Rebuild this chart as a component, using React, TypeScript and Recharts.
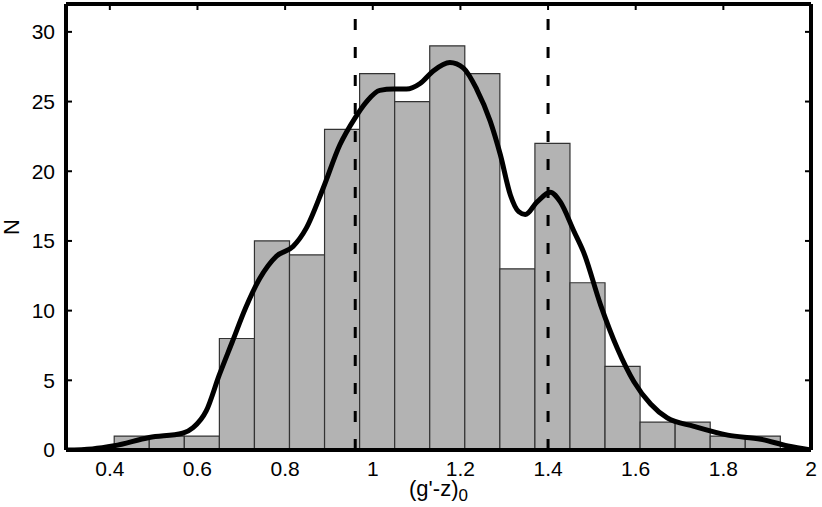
import { ComposedChart, Line, XAxis, YAxis, ReferenceArea, ReferenceLine } from "recharts";

// histogram bins: left edges and counts
const binStarts = [
  0.41, 0.49, 0.57, 0.65, 0.73, 0.81, 0.89, 0.97, 1.05, 1.13,
  1.21, 1.29, 1.37, 1.45, 1.53, 1.61, 1.69, 1.77, 1.85,
];
const binWidth = 0.08;
const counts = [1, 1, 1, 8, 15, 14, 23, 27, 25, 29, 27, 13, 22, 12, 6, 2, 2, 1, 1];

// smoothed density curve
const curveX = [
  0.3, 0.36, 0.41, 0.49, 0.566, 0.59, 0.62, 0.65, 0.68, 0.71, 0.742, 0.78, 0.818,
  0.848, 0.887, 0.925, 0.959, 0.986, 1.016, 1.047, 1.077, 1.108, 1.138, 1.176,
  1.207, 1.237, 1.268, 1.291, 1.314, 1.333, 1.348, 1.375, 1.405, 1.428, 1.459,
  1.481, 1.52, 1.558, 1.596, 1.634, 1.672, 1.733, 1.81, 1.886, 1.947, 2.0,
];
const curveY = [
  0.0, 0.08, 0.3, 0.9, 1.2, 1.6, 2.8, 5.4, 7.8, 10.2, 12.3, 13.9, 14.6,
  15.9, 18.8, 21.9, 23.8, 25.0, 25.8, 25.9, 25.9, 26.3, 27.2, 27.8,
  27.4, 25.9, 23.6, 21.2, 18.3, 17.1, 16.9, 17.8, 18.5, 17.8, 15.7,
  14.2, 10.4, 7.3, 4.9, 3.3, 2.3, 1.7, 1.07, 0.77, 0.29, 0.0,
];

const peakLines = [0.96, 1.4];
const xTicks = [0.4, 0.6, 0.8, 1, 1.2, 1.4, 1.6, 1.8, 2];
const yTicks = [0, 5, 10, 15, 20, 25, 30];

const curve = curveX.map((x, i) => ({ x, y: curveY[i] }));

const font = "'Liberation Sans', Arial, Helvetica, sans-serif";
const tickStyle = { fill: "#000", fontSize: 21, fontFamily: font };
const frame = { stroke: "#000", strokeWidth: 4 };
const inTick = { stroke: "#000", strokeWidth: 2 };
const noLabel = () => <g />;

const XLabel = (props: any) => {
  const vb = props.viewBox;
  return (
    <text
      x={vb.x + vb.width / 2}
      y={vb.y + 46}
      textAnchor="middle"
      fontSize={22}
      fontFamily={font}
      fill="#000"
    >
      (g'-z)
      <tspan dy={5} fontSize={17}>0</tspan>
    </text>
  );
};

const YLabel = (props: any) => {
  const vb = props.viewBox;
  const cy = vb.y + vb.height / 2;
  return (
    <text
      x={19}
      y={cy}
      textAnchor="middle"
      transform={`rotate(-90 19 ${cy})`}
      fontSize={22}
      fontFamily={font}
      fill="#000"
    >
      N
    </text>
  );
};

export default function App() {
  return (
    <div style={{ position: "absolute", left: 0, top: 0, background: "#fff" }}>
      <ComposedChart
        width={822}
        height={507}
        data={curve}
        margin={{ top: 3, right: 10, left: 0, bottom: 0 }}
      >
        <XAxis
          type="number"
          dataKey="x"
          domain={[0.3, 2]}
          ticks={xTicks}
          allowDataOverflow
          height={57}
          axisLine={frame}
          tickLine={false}
          tickSize={0}
          tickMargin={11}
          tick={tickStyle}
          label={XLabel}
        />
        <XAxis
          xAxisId="t"
          orientation="top"
          type="number"
          dataKey="x"
          domain={[0.3, 2]}
          ticks={xTicks}
          allowDataOverflow
          height={1}
          axisLine={frame}
          tickLine={inTick}
          tickSize={-6}
          tick={noLabel}
        />
        <YAxis
          type="number"
          domain={[0, 32]}
          ticks={yTicks}
          allowDataOverflow
          width={66}
          axisLine={frame}
          tickLine={inTick}
          tickSize={-6}
          tickMargin={17}
          tick={tickStyle}
          label={YLabel}
        />
        <YAxis
          yAxisId="r"
          orientation="right"
          type="number"
          domain={[0, 32]}
          ticks={yTicks}
          allowDataOverflow
          width={1}
          axisLine={frame}
          tickLine={inTick}
          tickSize={-6}
          tick={noLabel}
        />
        {binStarts.map((x0, i) => (
          <ReferenceArea
            key={i}
            x1={x0}
            x2={x0 + binWidth}
            y1={0}
            y2={counts[i]}
            fill="#b3b3b3"
            fillOpacity={1}
            stroke="#333"
            strokeWidth={1.2}
          />
        ))}
        {peakLines.map((x) => (
          <ReferenceLine
            key={x}
            x={x}
            stroke="#000"
            strokeWidth={3}
            strokeDasharray="11 17"
          />
        ))}
        <Line
          type="monotone"
          dataKey="y"
          stroke="#000"
          strokeWidth={5}
          dot={false}
          activeDot={false}
          isAnimationActive={false}
        />
      </ComposedChart>
    </div>
  );
}
